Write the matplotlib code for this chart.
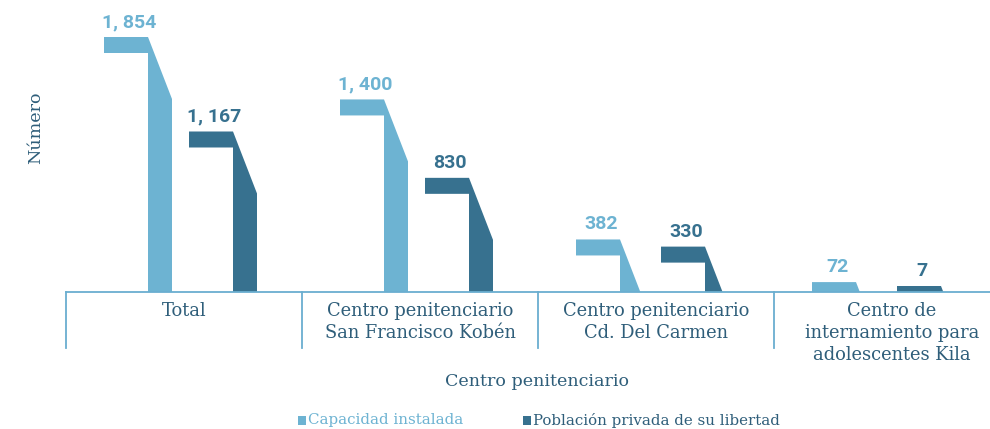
import matplotlib
matplotlib.use("Agg")
import matplotlib.pyplot as plt
from matplotlib.patches import Polygon
import matplotlib.transforms as mtransforms

categories = ["Total",
              "Centro penitenciario\nSan Francisco Kobén",
              "Centro penitenciario\nCd. Del Carmen",
              "Centro de\ninternamiento para\nadolescentes Kila"]
capacidad = [1854, 1400, 382, 72]
poblacion = [1167, 830, 330, 7]
value_labels_cap = ["1, 854", "1, 400", "382", "72"]
value_labels_pob = ["1, 167", "830", "330", "7"]
series_names = ["Capacidad instalada", "Población privada de su libertad"]

LIGHT = "#6db3d2"
DARK = "#37718f"
TEXT = "#2f5e7a"
AXIS = "#6aaed0"

W, H = 990, 429
fig = plt.figure(figsize=(W / 100, H / 100), dpi=100)
base_px = 292          # baseline, from top
left_px = 66
cat_px = 236
ax = fig.add_axes([left_px / W, (H - base_px) / H, (W - left_px) / W, base_px / H])
ax.set_axis_off()

px_per_unit = 255 / max(capacidad)
ymax = base_px / px_per_unit
ax.set_xlim(-0.5, -0.5 + (W - left_px) / cat_px)
ax.set_ylim(0, ymax)

def xpx(p):
    return p / cat_px

def ypx(p):
    return p / px_per_unit

BAND_W = 44
VERT_W = 24
THICK = 16
DROP = 62
MIN_VIS = 6

def draw_shape(xc_vl, value, color, label):
    top = max(value, ypx(MIN_VIS))
    vl = xc_vl
    bl = vl - xpx(BAND_W)
    vr = vl + xpx(VERT_W)
    pts = [(bl, top), (vl, top), (vr, top - ypx(DROP)), (vr, 0), (vl, 0),
           (vl, top - ypx(THICK)), (bl, top - ypx(THICK))]
    ax.add_patch(Polygon(pts, closed=True, facecolor=color, edgecolor="none"))
    ax.text((bl + vl) / 2 + xpx(3), top + ypx(6), label, color=color,
            fontsize=14, fontweight="bold", family="Roboto",
            ha="center", va="bottom")

for i in range(len(categories)):
    draw_shape(i + xpx(-36), capacidad[i], LIGHT, value_labels_cap[i])
    draw_shape(i + xpx(49), poblacion[i], DARK, value_labels_pob[i])

# baseline and separators
trans = mtransforms.blended_transform_factory(ax.transData, ax.transAxes)
ax.plot([-0.5, 10], [0, 0], color=AXIS, lw=1.3, transform=trans, clip_on=False)
for s in range(len(categories)):
    ax.plot([s - 0.5, s - 0.5], [0, -56 / base_px], color=AXIS, lw=1.3,
            transform=trans, clip_on=False)

for i, c in enumerate(categories):
    ax.text(i, -10 / base_px, c, transform=trans, ha="center", va="top",
            fontsize=12.9, color=TEXT, family="DejaVu Serif",
            linespacing=1.28)

fig.text(537 / W, 1 - 382 / H, "Centro penitenciario", ha="center", va="center",
         fontsize=12.6, color=TEXT, family="DejaVu Serif")
fig.text(36 / W, 1 - 128 / H, "Número", ha="center", va="center", rotation=90,
         fontsize=12.6, color=TEXT, family="DejaVu Serif")

# legend
ly = 1 - 420 / H
for xs, name, col in [(298, series_names[0], LIGHT), (523, series_names[1], DARK)]:
    fig.patches.append(plt.Rectangle((xs / W, ly - 4.5 / H), 8 / W, 9 / H,
                                     transform=fig.transFigure, facecolor=col,
                                     edgecolor="none"))
    fig.text((xs + 10) / W, ly, name, ha="left", va="center", fontsize=10.8,
             color=col if col == LIGHT else TEXT, family="DejaVu Serif")

fig.savefig("out.png", dpi=100)
